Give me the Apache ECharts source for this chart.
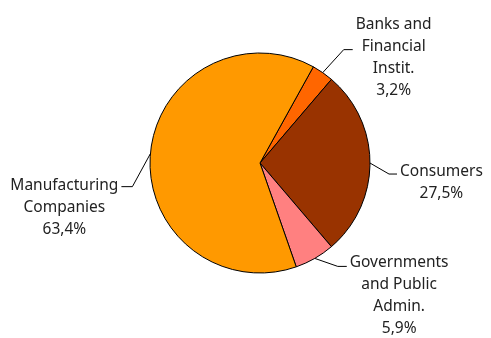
<!DOCTYPE html>
<html><head><meta charset="utf-8">
<script src="https://cdn.jsdelivr.net/npm/echarts@6/dist/echarts.min.js"></script>
<style>html,body{margin:0;padding:0;background:#fff}#c{width:491px;height:338px}</style>
</head><body><div id="c"></div>
<script>
const categories = ['Banks and\nFinancial\nInstit.', 'Consumers', 'Governments\nand Public\nAdmin.', 'Manufacturing\nCompanies'];
const values = [3.2, 27.5, 5.9, 63.4];
const colors = ['#FF6600', '#993300', '#FF8080', '#FF9900'];

// leader line: offset of label anchor from slice edge point [dx, dy, horizontal part]
const leaderOffset = [[30, -23, 9], [27, 11, 8], [32, 8, 9], [-29, 33, 11]];
// distance from top of label block to leader line
const rowOffset = [36, 13, 15, 12];

const chart = echarts.init(document.getElementById('c'));
chart.setOption({
  animation: false,
  series: [{
    type: 'pie',
    center: [260, 163],
    radius: 110,
    startAngle: 61,
    clockwise: true,
    avoidLabelOverlap: false,
    data: categories.map((n, i) => ({ name: n, value: values[i], itemStyle: { color: colors[i] } })),
    itemStyle: { borderColor: '#000', borderWidth: 1 },
    label: {
      show: true,
      position: 'outside',
      fontFamily: 'Noto Sans',
      fontSize: 15.5,
      color: '#222',
      lineHeight: 22,
      formatter: p => p.name.split('\n').concat([p.value.toFixed(1).replace('.', ',') + '%']).map(s => '{c|' + s + '}').join('\n'),
      rich: { c: { align: 'center', fontFamily: 'Noto Sans', fontSize: 15.5, color: '#222', lineHeight: 22 } }
    },
    labelLine: { show: true, length: 12, length2: 8, lineStyle: { color: '#000', width: 1 } },
    labelLayout: function (p) {
      const i = p.dataIndex;
      const s = p.labelLinePoints[0];
      const o = leaderOffset[i];
      const right = o[0] > 0;
      const end = [s[0] + o[0], s[1] + o[1]];
      const elbow = [end[0] + (right ? -o[2] : o[2]), end[1]];
      return {
        x: end[0] + (right ? 3 : -3),
        y: end[1] - rowOffset[i],
        align: right ? 'left' : 'right',
        verticalAlign: 'top',
        labelLinePoints: [s, elbow, end]
      };
    }
  }]
});
</script></body></html>
